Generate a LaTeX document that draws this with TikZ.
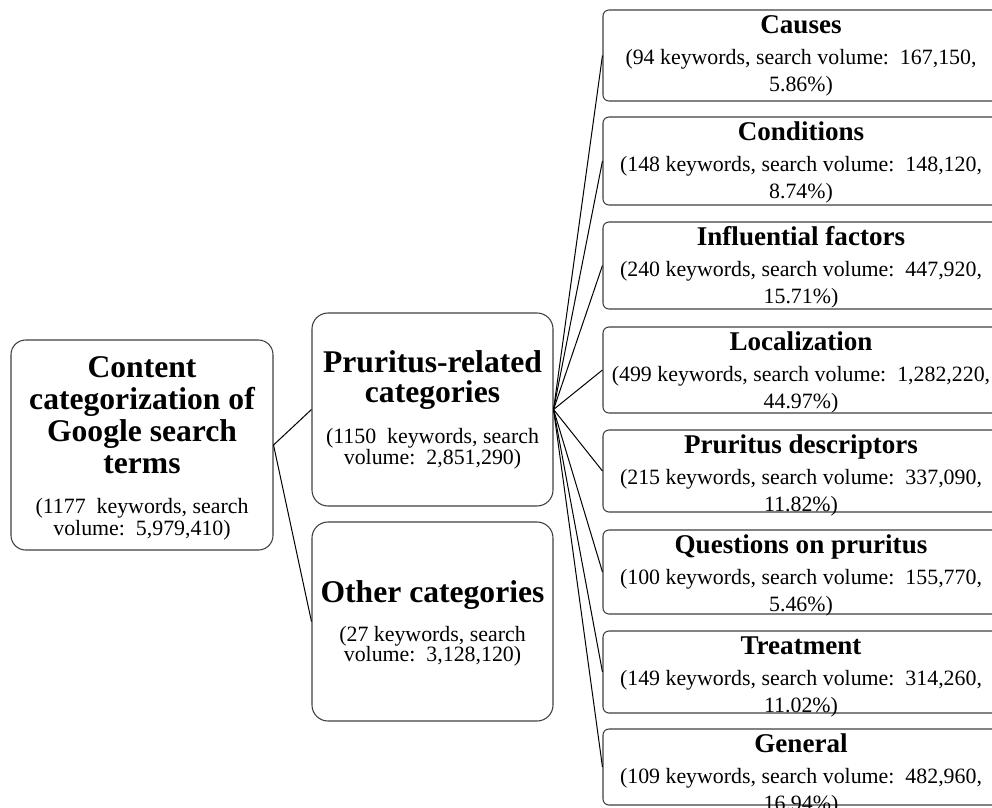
\documentclass[tikz,border=0pt]{standalone}
\usepackage{fontspec}
\setmainfont{Liberation Serif}
\frenchspacing
\newcommand\catbox[6]{%
  \node[rbox, minimum height={(#3-#2)*0.75pt}] (#1) at (801,{(#2+#3)/2}) {};
  \node[smalltitle] (#1-t) at (801,{#2+23}) {#4};
  \node[body] (#1-a) at (801,{#2+54}) {#5};
  \node[body] (#1-b) at (801,{#2+81}) {#6};
}
\begin{document}
\begin{tikzpicture}[x=0.75pt,y=-0.75pt,
  box/.style={draw=black!75, line width=0.8pt, inner sep=0pt},
  rbox/.style={box, rounded corners=4.5pt, minimum width={396*0.75pt}},
  mbox/.style={box, rounded corners=12pt, minimum width={241*0.75pt}},
  lbox/.style={box, rounded corners=11pt},
  bigtitle/.style={inner sep=0pt, anchor=base, font=\bfseries\fontsize{23.7}{28}\selectfont},
  smalltitle/.style={inner sep=0pt, anchor=base, font=\bfseries\fontsize{20.3}{24}\selectfont},
  body/.style={inner sep=0pt, anchor=base, font=\fontsize{16.4}{19}\selectfont},
  link/.style={draw=black, line width=0.75pt}]
\useasboundingbox (0,0) rectangle (992,807);
\clip (0,0) rectangle (992,807);
\fill[white] (0,0) rectangle (992,807);

% left box
\node[lbox, minimum width={262*0.75pt}, minimum height={210*0.75pt}] (root) at (142,445) {};
\node[bigtitle] (root-t1) at (142,377) {Content};
\node[bigtitle] (root-t2) at (142,409) {categorization of};
\node[bigtitle] (root-t3) at (142,441) {Google search};
\node[bigtitle] (root-t4) at (142,473) {terms};
\node[body] (root-a) at (142,513) {(1177\hspace{0.5em}keywords, search};
\node[body] (root-b) at (142,535) {volume:\hspace{0.5em}5,979,410)};

% middle boxes
\node[mbox, minimum height={193*0.75pt}] (prur) at (432.5,409.5) {};
\node[bigtitle] (prur-t1) at (432.5,372) {Pruritus-related};
\node[bigtitle] (prur-t2) at (432.5,402) {categories};
\node[body] (prur-a) at (432.5,443) {(1150\hspace{0.5em}keywords, search};
\node[body] (prur-b) at (432.5,464) {volume:\hspace{0.5em}2,851,290)};

\node[mbox, minimum height={199*0.75pt}] (other) at (432.5,621.5) {};
\node[bigtitle] (other-t) at (432.5,602) {Other categories};
\node[body] (other-a) at (432.5,641) {(27 keywords, search};
\node[body] (other-b) at (432.5,661) {volume:\hspace{0.5em}3,128,120)};

% right boxes
\catbox{causes}{10}{101}{Causes}{(94 keywords, search volume:\hspace{0.5em}167,150,}{5.86\%)}
\catbox{cond}{117}{205}{Conditions}{(148 keywords, search volume:\hspace{0.5em}148,120,}{8.74\%)}
\catbox{infl}{222}{309}{Influential factors}{(240 keywords, search volume:\hspace{0.5em}447,920,}{15.71\%)}
\catbox{loc}{327}{413}{Localization}{(499 keywords, search volume:\hspace{0.5em}1,282,220,}{44.97\%)}
\catbox{desc}{430}{512}{Pruritus descriptors}{(215 keywords, search volume:\hspace{0.5em}337,090,}{11.82\%)}
\catbox{quest}{530}{614}{Questions on pruritus}{(100 keywords, search volume:\hspace{0.5em}155,770,}{5.46\%)}
\catbox{treat}{631}{713}{Treatment}{(149 keywords, search volume:\hspace{0.5em}314,260,}{11.02\%)}
\catbox{gen}{729}{805}{General}{(109 keywords, search volume:\hspace{0.5em}482,960,}{16.94\%)}

% connectors
\draw[link] (root.east) -- (prur.west);
\draw[link] (root.east) -- (other.west);
\foreach \n in {causes,cond,infl,loc,desc,quest,treat,gen}
  \draw[link] (prur.east) -- (\n.west);
\end{tikzpicture}
\end{document}
